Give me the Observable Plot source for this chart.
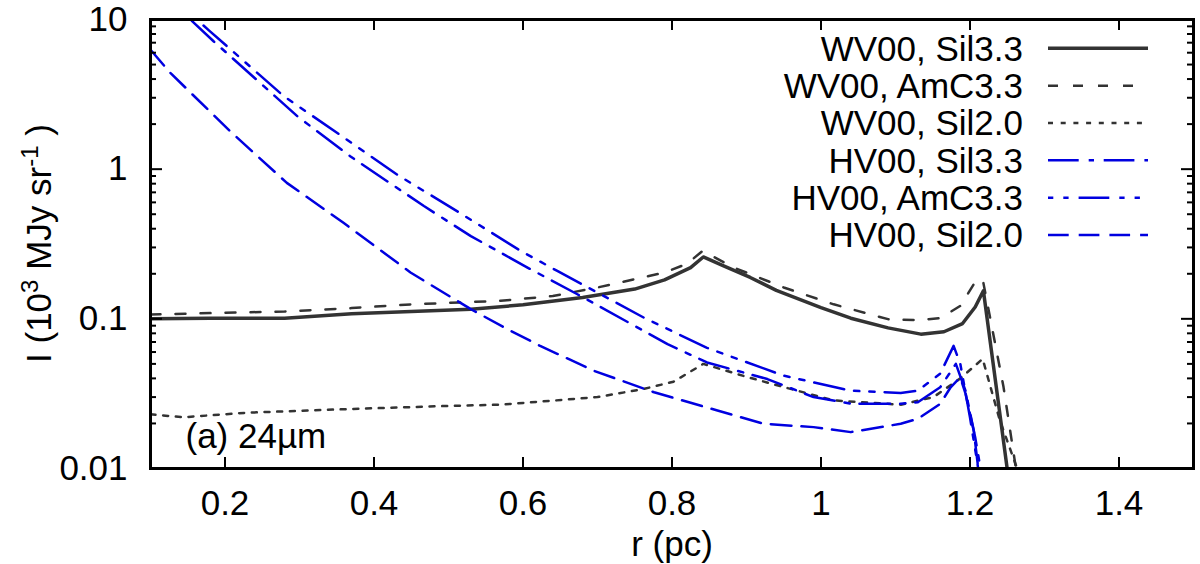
<!DOCTYPE html>
<html>
<head>
<meta charset="utf-8">
<script src="https://cdn.jsdelivr.net/npm/d3@7"></script>
<script src="https://cdn.jsdelivr.net/npm/@observablehq/plot@0.6"></script>
<style>
  body { margin: 0; background: #fff; }
  #chart { width: 1200px; height: 564px; }
</style>
</head>
<body>
<div id="chart"></div>
<script>
// ---- tick values / labels ----
const xTicks = [0.2, 0.4, 0.6, 0.8, 1, 1.2, 1.4];
const yTicks = [0.01, 0.1, 1, 10];
const yMinor = [0.02, 0.03, 0.04, 0.05, 0.06, 0.07, 0.08, 0.09,
                0.2, 0.3, 0.4, 0.5, 0.6, 0.7, 0.8, 0.9,
                2, 3, 4, 5, 6, 7, 8, 9];
const seriesNames = ["WV00, Sil3.3", "WV00, AmC3.3", "WV00, Sil2.0",
                     "HV00, Sil3.3", "HV00, AmC3.3", "HV00, Sil2.0"];
const xLabel = "r (pc)";
const panelLabel = "(a) 24µm";

// ---- series (r in pc, I in 10^3 MJy/sr) ----
const r_wvSil33 = [0.10, 0.18, 0.28, 0.37, 0.45, 0.53, 0.60, 0.68, 0.75, 0.79, 0.825, 0.842, 0.87, 0.905, 0.94, 1.00, 1.04, 1.09, 1.134, 1.165, 1.19, 1.207, 1.218, 1.25, 1.26];
const I_wvSil33 = [0.100, 0.101, 0.101, 0.108, 0.112, 0.116, 0.124, 0.139, 0.158, 0.182, 0.22, 0.259, 0.225, 0.189, 0.155, 0.119, 0.101, 0.087, 0.079, 0.082, 0.093, 0.12, 0.154, 0.0099, 0.0042];

const r_wvAmC33 = [0.10, 0.28, 0.37, 0.45, 0.57, 0.64, 0.70, 0.79, 0.82, 0.841, 0.883, 0.95, 1.017, 1.09, 1.13, 1.16, 1.187, 1.205, 1.217, 1.245, 1.261, 1.27];
const I_wvAmC33 = [0.107, 0.112, 0.118, 0.125, 0.132, 0.142, 0.162, 0.204, 0.233, 0.284, 0.22, 0.162, 0.125, 0.0995, 0.098, 0.101, 0.122, 0.17, 0.184, 0.035, 0.0105, 0.005];

const r_wvSil20 = [0.10, 0.144, 0.23, 0.37, 0.50, 0.57, 0.64, 0.70, 0.762, 0.802, 0.842, 0.90, 0.95, 1.017, 1.107, 1.151, 1.187, 1.217, 1.24, 1.263, 1.27];
const I_wvSil20 = [0.023, 0.022, 0.0236, 0.025, 0.0262, 0.0267, 0.0284, 0.030, 0.034, 0.038, 0.050, 0.041, 0.035, 0.0285, 0.0267, 0.030, 0.040, 0.054, 0.021, 0.0101, 0.006];

const r_hvSil33 = [0.10, 0.154, 0.185, 0.297, 0.368, 0.467, 0.53, 0.606, 0.673, 0.794, 0.847, 0.928, 0.99, 1.04, 1.107, 1.13, 1.16, 1.181, 1.194, 1.207, 1.214, 1.22];
const I_hvSil33 = [17.4, 9.95, 7.13, 2.26, 1.22, 0.567, 0.357, 0.22, 0.146, 0.0678, 0.0511, 0.0396, 0.030, 0.0271, 0.0271, 0.0277, 0.0349, 0.050, 0.033, 0.0161, 0.0101, 0.006];

const r_hvAmC33 = [0.10, 0.178, 0.279, 0.357, 0.431, 0.518, 0.597, 0.646, 0.762, 0.847, 0.95, 1.04, 1.107, 1.13, 1.16, 1.178, 1.187, 1.20, 1.21, 1.217];
const I_hvAmC33 = [19, 8.5, 3.07, 1.66, 0.92, 0.50, 0.284, 0.209, 0.102, 0.064, 0.0417, 0.0331, 0.032, 0.0331, 0.043, 0.066, 0.05, 0.0219, 0.0108, 0.006];

const r_hvSil20 = [0.10, 0.127, 0.207, 0.283, 0.359, 0.449, 0.53, 0.579, 0.623, 0.695, 0.776, 0.861, 0.923, 0.99, 1.04, 1.107, 1.13, 1.16, 1.174, 1.187, 1.194, 1.205, 1.211, 1.218];
const I_hvSil20 = [6.28, 4.38, 1.79, 0.81, 0.438, 0.204, 0.116, 0.0853, 0.066, 0.045, 0.0323, 0.0244, 0.0199, 0.0189, 0.0175, 0.0199, 0.0215, 0.027, 0.0349, 0.0406, 0.0316, 0.0179, 0.0101, 0.005];

// ---- layout / styles ----
const W = 1200, H = 564, mL = 150, mR = 7, mT = 19, mB = 96;
const frameW = W - mL - mR, frameH = H - mT - mB;
const GREY = "#333333", BLUE = "#0000e0";
const seriesStyle = [
  {stroke: GREY, strokeWidth: 3.5, dash: null, offset: 0},
  {stroke: GREY, strokeWidth: 2.5, dash: "10,15", offset: 0},
  {stroke: GREY, strokeWidth: 2.5, dash: "5,7.7", offset: 0},
  {stroke: BLUE, strokeWidth: 2.5, dash: "30.7,10,5.3,9.7", offset: 0},
  {stroke: BLUE, strokeWidth: 2.5, dash: "30.7,10,5.3,10,5.3,10", offset: 40.7},
  {stroke: BLUE, strokeWidth: 2.5, dash: "20.7,10", offset: 0}
];

const toRows = (rs, Is) => rs.map((r, i) => ({r, I: Is[i]}));
const seriesData = [
  toRows(r_wvSil33, I_wvSil33),
  toRows(r_wvAmC33, I_wvAmC33),
  toRows(r_wvSil20, I_wvSil20),
  toRows(r_hvSil33, I_hvSil33),
  toRows(r_hvAmC33, I_hvAmC33),
  toRows(r_hvSil20, I_hvSil20)
];

const lineMarks = seriesData.map((data, i) => Plot.line(data, {
  x: "r", y: "I",
  stroke: seriesStyle[i].stroke,
  strokeWidth: seriesStyle[i].strokeWidth,
  strokeDasharray: seriesStyle[i].dash || undefined,
  strokeLinejoin: "round",
  clip: true
}));

const svg = Plot.plot({
  width: W, height: H,
  marginLeft: mL, marginRight: mR, marginTop: mT, marginBottom: mB,
  style: {
    fontFamily: '"Liberation Sans", Arial, Helvetica, sans-serif',
    fontSize: "35px",
    background: "#fff",
    color: "#000"
  },
  x: {domain: [0.1, 1.5]},
  y: {type: "log", domain: [0.01, 10]},
  marks: [
    ...lineMarks,
    // inward major ticks on all four sides
    Plot.tickX(xTicks, {x: d => d, insetTop: frameH - 11, strokeWidth: 2}),
    Plot.tickX(xTicks, {x: d => d, insetBottom: frameH - 11, strokeWidth: 2}),
    Plot.tickY(yTicks, {y: d => d, insetRight: frameW - 12, strokeWidth: 2}),
    Plot.tickY(yTicks, {y: d => d, insetLeft: frameW - 12, strokeWidth: 2}),
    Plot.tickY(yMinor, {y: d => d, insetRight: frameW - 6, strokeWidth: 2}),
    Plot.tickY(yMinor, {y: d => d, insetLeft: frameW - 6, strokeWidth: 2}),
    Plot.axisX({ticks: xTicks, tickSize: 0, tickPadding: 22, tickFormat: d => String(d), label: null}),
    Plot.axisY({ticks: yTicks, tickSize: 0, tickPadding: 23, tickFormat: d => String(d), label: null}),
    Plot.frame({stroke: "#000", strokeWidth: 3}),
    Plot.text([xLabel], {frameAnchor: "bottom", dy: 87, lineAnchor: "bottom", text: d => d}),
    Plot.text([panelLabel], {frameAnchor: "bottom-left", dx: 35, dy: -21, textAnchor: "start", lineAnchor: "bottom", text: d => d})
  ]
});

// y-axis label with superscripts
const root = d3.select(svg);
const yl = root.append("text")
  .attr("transform", `translate(51,${mT + frameH / 2}) rotate(-90)`)
  .attr("text-anchor", "middle")
  .attr("fill", "#000")
  .style("font-size", "35px");
yl.append("tspan").text("I (10");
yl.append("tspan").attr("dy", -13).style("font-size", "24px").text("3");
yl.append("tspan").attr("dy", 13).text(" MJy sr");
yl.append("tspan").attr("dy", -13).style("font-size", "24px").text("-1");
yl.append("tspan").attr("dy", 13).text(" )");

// legend (inside the frame, top right)
const lg = root.append("g");
seriesNames.forEach((name, i) => {
  const y = 48.3 + i * 37.35;
  lg.append("text")
    .attr("x", 1023).attr("y", y).attr("dy", "0.35em")
    .attr("text-anchor", "end").attr("fill", "#000")
    .style("font-size", "35px")
    .text(name);
  const ln = lg.append("line")
    .attr("x1", 1048).attr("x2", 1148).attr("y1", y).attr("y2", y)
    .attr("stroke", seriesStyle[i].stroke)
    .attr("stroke-width", seriesStyle[i].strokeWidth);
  if (seriesStyle[i].dash) {
    ln.attr("stroke-dasharray", seriesStyle[i].dash)
      .attr("stroke-dashoffset", seriesStyle[i].offset);
  }
});

document.getElementById("chart").appendChild(svg);
</script>
</body>
</html>
